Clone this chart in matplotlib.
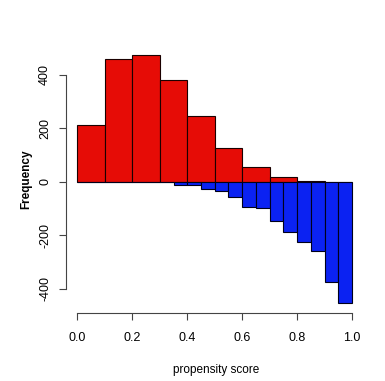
import numpy as np
import matplotlib
matplotlib.use('Agg')
import matplotlib.pyplot as plt

#- histogram data (counts)
red_edges = [0.0, 0.1, 0.2, 0.3, 0.4, 0.5, 0.6, 0.7, 0.8, 0.9, 1.0]
red_counts = [213, 459, 475, 380, 244, 126, 54, 19, 2, 0]
blue_edges = [0.0, 0.05, 0.1, 0.15, 0.2, 0.25, 0.3, 0.35, 0.4, 0.45, 0.5,
              0.55, 0.6, 0.65, 0.7, 0.75, 0.8, 0.85, 0.9, 0.95, 1.0]
blue_counts = [0, 0, 0, 0, 0, 2, 3, 12, 12, 27, 34,
               59, 93, 100, 146, 187, 226, 258, 375, 452]
x_ticks = [0.0, 0.2, 0.4, 0.6, 0.8, 1.0]
y_ticks = [-400, -200, 0, 200, 400]

plt.rcParams['font.family'] = ['Liberation Sans', 'DejaVu Sans']

fig = plt.figure(figsize=(3.85, 3.81), dpi=100)
ax = fig.add_axes([0.1795, 0.1932, 0.7635, 0.674])

red_w = np.diff(red_edges)
blue_w = np.diff(blue_edges)
ax.bar(red_edges[:-1], red_counts, width=red_w, align='edge',
       color='#e60c06', edgecolor='#1a0000', linewidth=0.8)
ax.bar(blue_edges[:-1], -np.array(blue_counts), width=blue_w, align='edge',
       color='#0b22f2', edgecolor='#00001a', linewidth=0.8)

ax.set_xlim(-0.03, 1.04)
ax.set_ylim(-470, 490)

# R style axes
ax.spines['top'].set_visible(False)
ax.spines['right'].set_visible(False)
ax.spines['bottom'].set_position(('outward', 4))
ax.spines['left'].set_position(('outward', 2))
ax.spines['bottom'].set_bounds(0, 1)
ax.spines['left'].set_bounds(-400, 400)
for s in ['bottom', 'left']:
    ax.spines[s].set_color('#444444')
    ax.spines[s].set_linewidth(0.8)

ax.set_xticks(x_ticks)
ax.set_xticklabels(['%.1f' % t for t in x_ticks])
ax.set_yticks(y_ticks)
ax.set_yticklabels([str(t) for t in y_ticks], rotation=90, va='center')
ax.tick_params(axis='x', length=5, width=0.8, color='#444444', pad=9, labelsize=9)
ax.tick_params(axis='y', length=5, width=0.8, color='#444444', pad=6, labelsize=9)

ax.set_xlabel('propensity score', fontsize=8.5, labelpad=14)
ax.set_ylabel('Frequency', fontsize=8.5, fontweight='bold', labelpad=5)

fig.savefig('out.png', dpi=100)
